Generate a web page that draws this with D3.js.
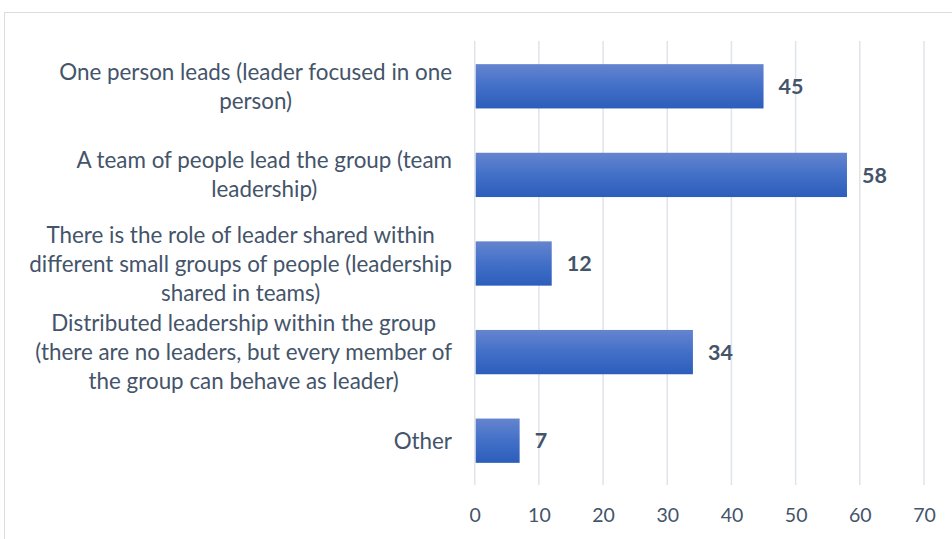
<!DOCTYPE html>
<html>
<head>
<meta charset="utf-8">
<script src="https://cdn.jsdelivr.net/npm/d3@7/dist/d3.min.js"></script>
<style>
  html, body { margin: 0; padding: 0; background: #fff; }
  svg { display: block; }
</style>
</head>
<body>
<svg id="chart" width="952" height="539"></svg>
<script>
const categories = [
  ["One person leads (leader focused in one", "person)"],
  ["A team of people lead the group (team", "leadership)"],
  ["There is the role of leader shared within", "different small groups of people (leadership", "shared in teams)"],
  ["Distributed leadership within the group", "(there are no leaders, but every member of", "the group can behave as leader)"],
  ["Other"]
];
const values = [45, 58, 12, 34, 7];
const tickValues = [0, 10, 20, 30, 40, 50, 60, 70];

const svg = d3.select("#chart");
const font = "Lato, 'Open Sans', sans-serif";
const textColor = "#44546a";

// chart frame
svg.append("rect")
  .attr("x", 4.5).attr("y", 12.5)
  .attr("width", 1000).attr("height", 1000)
  .attr("fill", "none").attr("stroke", "#d9dde3").attr("stroke-width", 1);

const x = d3.scaleLinear().domain([0, 70]).range([474.7, 924]);
const y = d3.scaleBand().domain(d3.range(categories.length)).range([42, 485]).paddingInner(0.5).paddingOuter(0.25);

// gridlines
const grid = svg.append("g");
grid.selectAll("line").data(tickValues).join("line")
  .attr("x1", d => x(d)).attr("x2", d => x(d))
  .attr("y1", 41).attr("y2", 485)
  .attr("stroke", "#dfe3ea").attr("stroke-width", 1.5);

// gradient
const defs = svg.append("defs");
const grad = defs.append("linearGradient").attr("id", "barGrad")
  .attr("x1", 0).attr("y1", 0).attr("x2", 0).attr("y2", 1);
grad.append("stop").attr("offset", "0%").attr("stop-color", "#6584cf");
grad.append("stop").attr("offset", "50%").attr("stop-color", "#4270c8");
grad.append("stop").attr("offset", "100%").attr("stop-color", "#2d5dbb");

// bars
svg.append("g").selectAll("rect").data(values).join("rect")
  .attr("x", x(0) + 1)
  .attr("y", (d, i) => y(i))
  .attr("width", d => x(d) - x(0) - 1)
  .attr("height", y.bandwidth())
  .attr("fill", "url(#barGrad)");

// value labels
svg.append("g").selectAll("text").data(values).join("text")
  .attr("x", d => x(d) + 15)
  .attr("y", (d, i) => y(i) + y.bandwidth() / 2)
  .attr("dy", "0.36em")
  .attr("font-family", font).attr("font-size", 21.5).attr("font-weight", "bold")
  .attr("fill", textColor)
  .text(d => d);

// x axis
const xAxis = d3.axisBottom(x).tickValues(tickValues).tickSize(0).tickPadding(0);
const ax = svg.append("g").attr("transform", "translate(0,515)").call(xAxis);
ax.select(".domain").remove();
ax.selectAll("text")
  .attr("font-family", font).attr("font-size", 19.5)
  .attr("fill", textColor).attr("dy", "0.36em");

// category labels
const lineH = 29;
const rightEdge = 452;
const catG = svg.append("g");
categories.forEach((lines, i) => {
  const cy = y(i) + y.bandwidth() / 2;
  const g = catG.append("g");
  const texts = lines.map((ln, j) => g.append("text")
    .attr("y", cy + (j - (lines.length - 1) / 2) * lineH)
    .attr("dy", "0.36em")
    .attr("font-family", font).attr("font-size", 22.4)
    .attr("fill", textColor)
    .attr("text-anchor", "middle")
    .text(ln));
  const maxW = d3.max(texts, t => t.node().getComputedTextLength());
  const cx = rightEdge - maxW / 2;
  texts.forEach(t => t.attr("x", cx));
});
</script>
</body>
</html>
